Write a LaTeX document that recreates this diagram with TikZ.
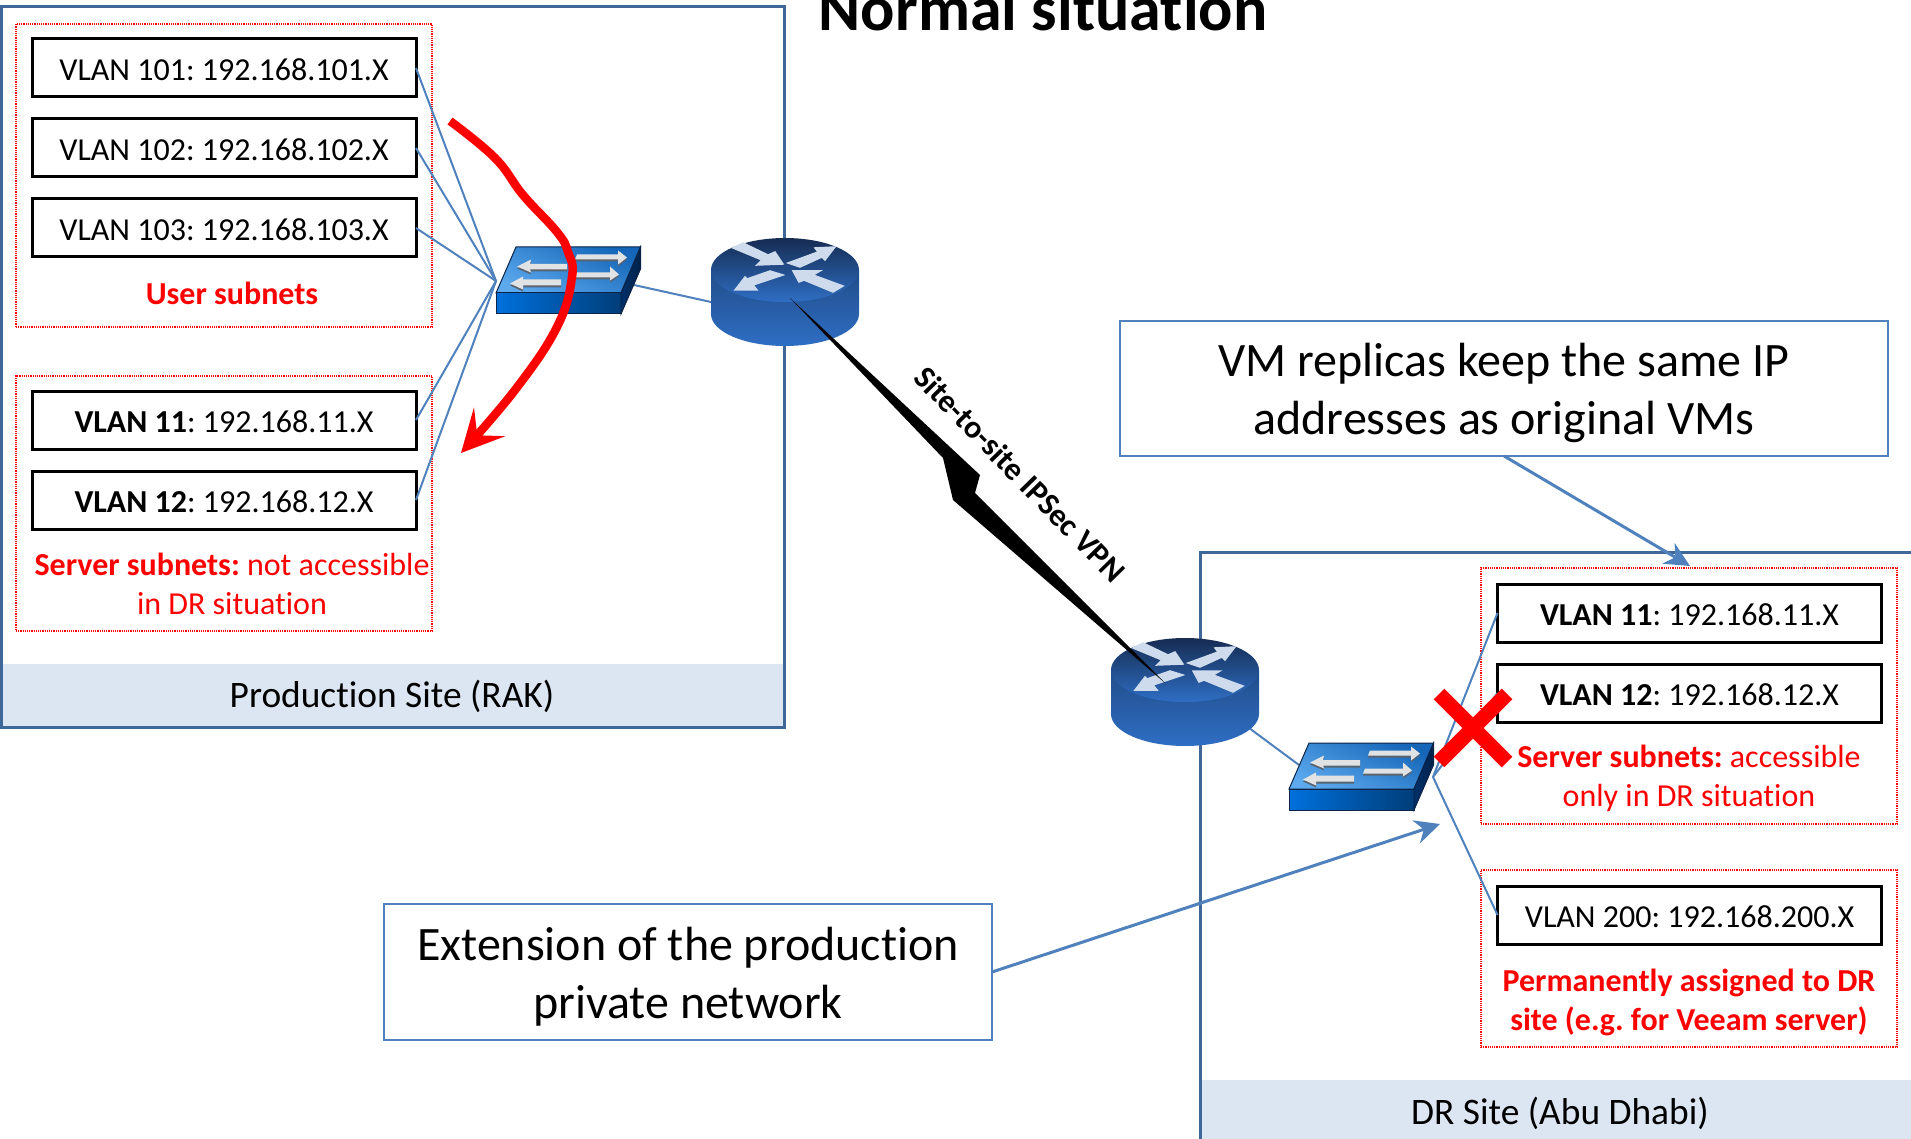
\documentclass[tikz,border=0pt]{standalone}
\usepackage{fontspec}
\setmainfont[Ligatures=NoCommon]{Carlito}
\usetikzlibrary{arrows.meta,positioning}
\definecolor{framecol}{HTML}{3F6797}
\definecolor{bandcol}{HTML}{DCE6F2}
\definecolor{wirecol}{HTML}{4F81BD}
\definecolor{arrowcol}{HTML}{CDDBEC}
\definecolor{rttop}{HTML}{162C52}
\definecolor{swlight}{HTML}{5CA9EE}
\definecolor{swedge}{HTML}{0B2347}
\definecolor{swfront}{HTML}{0070DC}
\definecolor{swdark}{HTML}{00306A}
\definecolor{swshadow}{HTML}{5A6470}
\definecolor{swarrow}{HTML}{E0E2E4}
\definecolor{rtmain}{HTML}{2F6EC4}
\definecolor{swmain}{HTML}{1566B8}
\newcommand{\fs}[1]{\fontsize{#1}{#1}\selectfont}
\newcommand{\notestrut}{\rule{0pt}{42pt}}

\tikzset{
	pics/router/.style={code={
		\shade[top color=#1!70!black,bottom color=#1] (-74,0) -- (-74,44) arc[start angle=180,end angle=0,x radius=74,y radius=32] -- (74,0) -- cycle;
		\shade[top color=rttop,bottom color=#1] (0,0) ellipse [x radius=74,y radius=32];
		\filldraw[arrowcol,line width=1.5pt] (-52,-22) -- (-42,-27) -- (-17,-15) -- (-10,-18) -- (-2,-6) -- (-28,-5) -- (-23,-10) -- cycle;
		\filldraw[arrowcol,line width=1.5pt] (3,-7) -- (33,-18) -- (30,-22) -- (50,-23) -- (40,-10) -- (37,-13) -- (15,-3) -- cycle;
		\filldraw[arrowcol,line width=1.5pt] (8,1) -- (35,1) -- (28,5) -- (58,16) -- (48,22) -- (19,10) -- (14,12) -- cycle;
		\filldraw[arrowcol,line width=1.5pt] (-50,20) -- (-28,20) -- (-32,15) -- (-2,5) -- (-15,1) -- (-38,9) -- (-40,7) -- cycle;
	}},
	pics/switch/.style={code={
		\shade[top color=#1,bottom color=swlight,shading angle=-25,draw=swedge,line width=1pt] (0,0) -- (20,-46) -- (144.5,-46) -- (125,0) -- cycle;
		\shade[left color=swfront,right color=swfront!55!black,draw=swedge,line width=1pt] (0,0) rectangle (125,21);
		\shade[left color=swdark,right color=swdark!70!black,draw=swedge,line width=1pt] (125,0) -- (144.5,-46) -- (144.5,-24) -- (125,21) -- cycle;
		\foreach \dy/\col in {-1.5/swshadow,0.5/swarrow}{
			\fill[\col,yshift=\dy pt] (21,-26) -- (35,-33) -- (34,-28.5) -- (71,-28.5) -- (71,-23) -- (34,-23) -- (35,-20) -- cycle;
			\fill[\col,yshift=\dy pt] (14,-9) -- (27,-16) -- (27,-13) -- (65,-13) -- (65,-7) -- (27,-7) -- (27,-3) -- cycle;
			\fill[\col,yshift=\dy pt] (81,-38) -- (122,-38) -- (122,-42) -- (131,-35) -- (122,-28) -- (122,-33) -- (79,-33) -- cycle;
			\fill[\col,yshift=\dy pt] (76,-20) -- (114,-20) -- (114,-26) -- (123,-18) -- (114,-12) -- (114,-15) -- (74,-15) -- cycle;
		}
	}}
}

\begin{document}
\frenchspacing
\begin{tikzpicture}[x=1pt,y=-1pt,node distance=80pt,on grid,
	vlanbox/.style={draw=black,line width=3pt,fill=white,minimum width=384pt,minimum height=58pt,inner sep=0pt,outer sep=0pt,text height=32pt,text depth=7pt,font=\fs{32}},
	subnetbox/.style={draw=red,densely dotted,line width=1.2pt,inner sep=0pt,outer sep=0pt},
	redtext/.style={text=red,align=center,font=\fontsize{32}{39}\selectfont},
	sitetext/.style={font=\fs{37.4}},
	notebox/.style={draw=wirecol,line width=2.2pt,fill=white,inner sep=0pt,outer sep=0pt,align=center,font=\fontsize{48}{58}\selectfont},
	wire/.style={wirecol,line width=2pt},
	pointer/.style={wirecol,line width=3pt,-{Stealth[length=25pt,width=24pt,inset=8pt]}},
	frame/.style={framecol,line width=3pt}]
	\useasboundingbox (0,0) rectangle (1911,1139);

	\fill[bandcol] (1,664) rectangle (784,727);
	\fill[bandcol] (1200,1080) rectangle (1911,1139);
	\draw[frame] (1,7) rectangle (784,727);
	\draw[frame] (1911,552) -- (1200,552) -- (1200,1139);
	\node[sitetext] (prodlabel) at (392,696) {Production Site (RAK)};
	\node[sitetext] (drlabel) at (1560,1113) {DR Site (Abu Dhabi)};

	\node[subnetbox,minimum width=416pt,minimum height=303pt] (usergroup) at (224,175.5) {};
	\node[subnetbox,minimum width=416pt,minimum height=255pt] (servergroup) at (224,503.5) {};
	\node[subnetbox,minimum width=416pt,minimum height=256pt] (drgroup) at (1689,696) {};
	\node[subnetbox,minimum width=416pt,minimum height=177pt] (permgroup) at (1689,958.5) {};

	\node[vlanbox] (v101) at (224,68) {VLAN 101: 192.168.101.X};
	\node[vlanbox] (v102) [below=of v101] {VLAN 102: 192.168.102.X};
	\node[vlanbox] (v103) [below=of v102] {VLAN 103: 192.168.103.X};
	\node[vlanbox] (v11) at (224,420) {\textbf{VLAN 11}: 192.168.11.X};
	\node[vlanbox] (v12) [below=of v11] {\textbf{VLAN 12}: 192.168.12.X};
	\node[vlanbox] (drv11) at (1689.5,613) {\textbf{VLAN 11}: 192.168.11.X};
	\node[vlanbox] (drv12) [below=of drv11] {\textbf{VLAN 12}: 192.168.12.X};
	\node[vlanbox] (v200) at (1689.5,915) {VLAN 200: 192.168.200.X};

	\node[redtext] (usertext) at (232,293) {\textbf{User subnets}};
	\node[redtext] (servertext) at (232,584) {\textbf{Server subnets:} not accessible\\in DR situation};
	\node[redtext] (drtext) at (1689,778) {\textbf{Server subnets:} accessible\\only in DR situation};
	\node[redtext] (permtext) at (1689,1002) {\textbf{Permanently assigned to DR}\\\textbf{site (e.g. for Veeam server)}};

	\coordinate (hubA) at (496,281);
	\coordinate (hubB) at (1433,777);
	\coordinate (swportA) at (634,285);
	\coordinate (rtportA) at (720,304);
	\coordinate (swportB) at (1299,765);
	\coordinate (rtportB) at (1245,725);

	\foreach \v in {v101,v102,v103,v11,v12}
		\draw[wire] (\v.east) -- (hubA);
	\foreach \v in {drv11,drv12,v200}
		\draw[wire] (\v.west) -- (hubB);
	\draw[wire] (swportA) -- (rtportA);
	\draw[wire] (swportB) -- (rtportB);

	\pic at (496,293) {switch=swmain};
	\pic at (1289,789) {switch=swmain};
	\pic at (785,270) {router=rtmain};
	\pic at (1185,670) {router=rtmain};

	\coordinate (vpnA) at (790,298);
	\coordinate (vpnB) at (1165,683);
	\fill[black] (vpnA) -- (980,475) -- (975,493) -- (vpnB) -- (953,500) -- (943,458) -- cycle;
	\node[rotate=-45.7,font=\bfseries\fs{32}] (vpntext) at (1020,474) {Site-to-site IPSec VPN};

	\node[notebox,minimum width=768pt,minimum height=135pt] (vmnote) at (1504,388.5) {\notestrut VM replicas keep the same IP\\addresses as original VMs};
	\node[notebox,minimum width=608pt,minimum height=136pt] (extnote) at (688,972) {\notestrut Extension of the production\\private network};
	\coordinate (vmtip) at (1690,566);
	\coordinate (exttip) at (1440,824);
	\draw[pointer] (vmnote.south) -- (vmtip);
	\draw[pointer] (extnote.east) -- (exttip);

	\draw[red,line width=8.5pt,-{Stealth[length=42pt,width=42pt,inset=18pt]}] plot[smooth,tension=0.7] coordinates {(450,121) (495,158) (523,195) (557,232) (568,252) (572,277) (557,327) (515,390) (461,453)};

	\coordinate (cross) at (1473,728);
	\draw[red,line width=15pt] (cross) ++(-34,-34) -- ++(68,68);
	\draw[red,line width=15pt] (cross) ++(34,-34) -- ++(-68,68);

	\node[font=\bfseries\fs{64},anchor=base] (title) at (1043,31) {Normal situation};
\end{tikzpicture}
\end{document}
